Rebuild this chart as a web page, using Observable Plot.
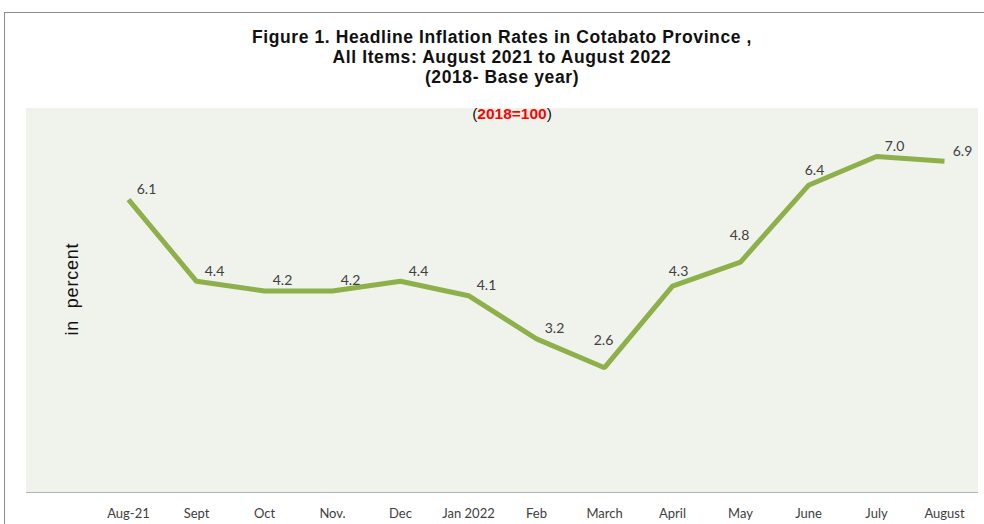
<!DOCTYPE html>
<html>
<head>
<meta charset="utf-8">
<script src="https://cdn.jsdelivr.net/npm/d3@7"></script>
<script src="https://cdn.jsdelivr.net/npm/@observablehq/plot@0.6"></script>
<style>
  html, body { margin: 0; padding: 0; background: #fff; }
  #wrap { position: relative; width: 984px; height: 524px; overflow: hidden; font-family: "Liberation Sans", Arial, sans-serif; }
  #border { position: absolute; left: 4px; top: 12px; width: 1100px; height: 700px; border-left: 1.5px solid #8c8c8c; border-top: 1.5px solid #8c8c8c; }
  #title { position: absolute; left: 0; top: 27px; width: 1004px; text-align: center; font-weight: bold; font-size: 17.5px; letter-spacing: 0.6px; line-height: 20px; color: #111; }
  #bg { position: absolute; left: 26px; top: 108px; width: 952px; height: 384px; background: #f0f3eb; border-bottom: 1px solid #b4b4b4; }
  #sub { position: absolute; left: 0; top: 105px; width: 1024px; text-align: center; font-size: 15.5px; color: #111; }
  #sub b { color: #ff0000; }
  #ylab { position: absolute; left: 72px; top: 289px; transform: translate(-50%, -50%) rotate(-90deg); font-size: 18px; letter-spacing: 0.8px; color: #111; white-space: pre; }
  #chart { position: absolute; left: 0; top: 0; }
</style>
</head>
<body>
<div id="wrap">
  <div id="border"></div>
  <div id="title">Figure 1. Headline Inflation Rates in Cotabato Province ,<br>All Items: August 2021 to August 2022<br>(2018- Base year)</div>
  <div id="bg"></div>
  <div id="sub">(<b>2018=100</b>)</div>
  <div id="ylab">in  percent</div>
  <div id="chart"></div>
</div>
<script>
const months = ["Aug-21", "Sept", "Oct", "Nov.", "Dec", "Jan 2022", "Feb", "March", "April", "May", "June", "July", "August"];
const rates = [6.1, 4.4, 4.2, 4.2, 4.4, 4.1, 3.2, 2.6, 4.3, 4.8, 6.4, 7.0, 6.9];

const data = months.map((m, i) => ({month: m, rate: rates[i], rise: i < rates.length - 1 ? rates[i + 1] - rates[i] : 0}));

// label placement follows the slope of the following segment so labels clear the line
const steep = data.filter(d => d.rise > 1);
const rising = data.filter(d => d.rise > 0.3 && d.rise <= 1);
const other = data.filter(d => d.rise <= 0.3);
const fmt = d => d.rate.toFixed(1);
const lbl = {x: "month", y: "rate", text: fmt, fill: "#404040", fontSize: 14};

const chart = Plot.plot({
  width: 984,
  height: 524,
  marginLeft: 93,
  marginRight: 6,
  marginTop: 108,
  marginBottom: 32,
  style: {background: "transparent", fontFamily: "Lato, 'Open Sans', sans-serif", fontSize: "13px", color: "#404040"},
  x: {type: "band", domain: months, padding: 0, label: null},
  y: {domain: [0, 8], axis: null},
  marks: [
    Plot.axisX({tickSize: 0, tickPadding: 16, fontSize: 13, fill: "#404040", label: null}),
    Plot.line(data, {x: "month", y: "rate", stroke: "#8db04a", strokeWidth: 5, strokeLinejoin: "miter", strokeLinecap: "butt"}),
    Plot.text(other, {...lbl, dx: 18, dy: -10}),
    Plot.text(rising, {...lbl, dx: 6, dy: -15}),
    Plot.text(steep, {...lbl, dx: -1, dy: -27})
  ]
});
document.getElementById("chart").appendChild(chart);
</script>
</body>
</html>
